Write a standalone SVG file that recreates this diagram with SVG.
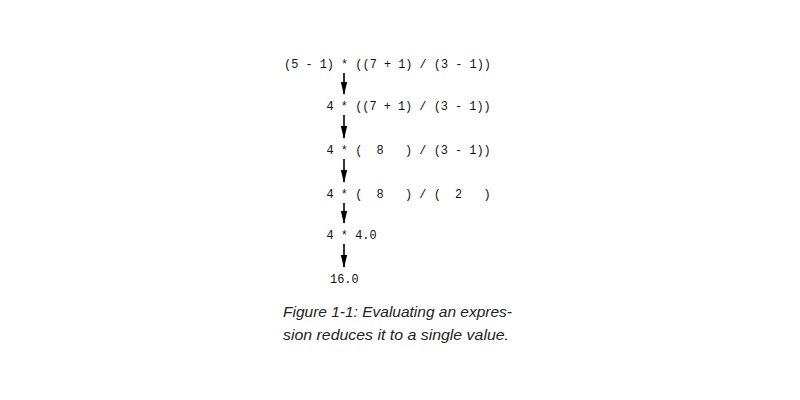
<svg xmlns="http://www.w3.org/2000/svg" width="800" height="400" viewBox="0 0 800 400">
<style>
.expr{font-family:"Liberation Mono","DejaVu Sans Mono",monospace;font-size:11.9px;fill:#111;white-space:pre}
.cap{font-family:"Liberation Sans","DejaVu Sans",sans-serif;font-style:italic;font-size:15px;fill:#222}
.shaft{stroke:#000;stroke-width:1.6;fill:none}
.head{fill:#000}
</style>
<rect width="800" height="400" fill="#fff"/>
<g id="step1"><text class="expr" x="284" y="68" xml:space="preserve">(5 - 1) * ((7 + 1) / (3 - 1))</text></g>
<g id="step2"><text class="expr" x="326.6" y="110" xml:space="preserve">4 * ((7 + 1) / (3 - 1))</text></g>
<g id="step3"><text class="expr" x="326.6" y="154" xml:space="preserve">4 * (  8   ) / (3 - 1))</text></g>
<g id="step4"><text class="expr" x="326.6" y="198" xml:space="preserve">4 * (  8   ) / (  2   )</text></g>
<g id="step5"><text class="expr" x="326.6" y="239" xml:space="preserve">4 * 4.0</text></g>
<g id="step6"><text class="expr" x="330" y="283" xml:space="preserve">16.0</text></g>
<g id="connectors">
<path class="shaft" d="M344,73 V94"/>
<path class="shaft" d="M344,115 V138"/>
<path class="shaft" d="M344,159 V182"/>
<path class="shaft" d="M344,203 V223"/>
<path class="shaft" d="M344,244 V267"/>
<path class="head" d="M340.8,82 L344,95 L347.2,82 Z"/>
<path class="head" d="M340.8,126 L344,139 L347.2,126 Z"/>
<path class="head" d="M340.8,170 L344,183 L347.2,170 Z"/>
<path class="head" d="M340.8,211 L344,224 L347.2,211 Z"/>
<path class="head" d="M340.8,255 L344,268 L347.2,255 Z"/>
</g>
<g id="caption">
<text class="cap" x="283" y="317" textLength="229" lengthAdjust="spacingAndGlyphs">Figure 1-1: Evaluating an expres-</text>
<text class="cap" x="283" y="340" textLength="226" lengthAdjust="spacingAndGlyphs">sion reduces it to a single value.</text>
</g>
</svg>
